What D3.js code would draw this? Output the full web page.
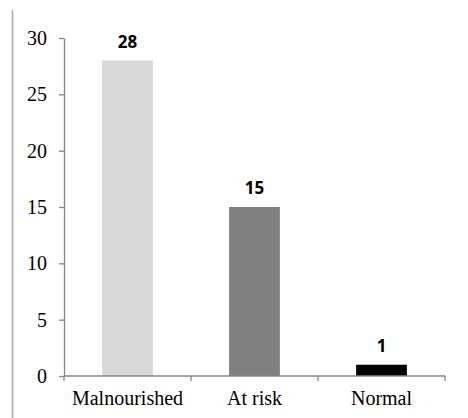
<!DOCTYPE html>
<html>
<head>
<meta charset="utf-8">
<script src="https://cdn.jsdelivr.net/npm/d3@7"></script>
<style>
  html, body { margin: 0; padding: 0; background: #fff; }
  svg { display: block; }
</style>
</head>
<body>
<svg id="chart" width="468" height="418"></svg>
<script>
// Nutritional status counts
const categories = ["Malnourished", "At risk", "Normal"];
const counts = [28, 15, 1];
const barColors = ["#d9d9d9", "#808080", "#000000"];
const yTicks = [0, 5, 10, 15, 20, 25, 30];

const svg = d3.select("#chart");
const axisColor = "#868686";

const plot = { left: 64, right: 445, top: 38, bottom: 376 };

const x = d3.scaleBand()
  .domain(categories)
  .range([plot.left, plot.right])
  .paddingInner(0.6)
  .paddingOuter(0.3);

const y = d3.scaleLinear()
  .domain([0, 30])
  .range([plot.bottom, plot.top]);

// Frame line on the left edge
svg.append("line")
  .attr("x1", 12.5).attr("x2", 12.5)
  .attr("y1", 10).attr("y2", 418)
  .attr("stroke", "#a6a6a6").attr("stroke-width", 1.5);

// Bars
svg.selectAll("rect.bar")
  .data(categories)
  .enter().append("rect")
  .attr("class", "bar")
  .attr("x", d => x(d))
  .attr("width", x.bandwidth())
  .attr("y", (d, i) => y(counts[i]))
  .attr("height", (d, i) => y(0) - y(counts[i]))
  .attr("fill", (d, i) => barColors[i]);

// Value labels
svg.selectAll("text.val")
  .data(categories)
  .enter().append("text")
  .attr("class", "val")
  .attr("x", d => x(d) + x.bandwidth() / 2)
  .attr("y", (d, i) => y(counts[i]) - 13)
  .attr("text-anchor", "middle")
  .attr("font-family", "'Open Sans', 'Liberation Sans', sans-serif")
  .attr("font-weight", "bold")
  .attr("font-size", "17px")
  .attr("fill", "#000")
  .text((d, i) => counts[i]);

// Y axis
const yAxis = svg.append("g")
  .attr("transform", `translate(${plot.left},0)`)
  .call(d3.axisLeft(y).tickValues(yTicks).tickSize(5).tickPadding(12).tickSizeOuter(0));
yAxis.select(".domain").attr("stroke", axisColor).attr("stroke-width", 1.3);
yAxis.selectAll(".tick line").attr("stroke", axisColor).attr("stroke-width", 1.3);
yAxis.selectAll(".tick text")
  .attr("font-family", "'Liberation Serif', 'DejaVu Serif', serif")
  .attr("font-size", "20px")
  .attr("fill", "#000");

// X axis baseline with boundary ticks between categories
const xAxisG = svg.append("g");
xAxisG.append("line")
  .attr("x1", plot.left).attr("x2", plot.right)
  .attr("y1", y(0)).attr("y2", y(0))
  .attr("stroke", axisColor).attr("stroke-width", 1.3);
const boundaries = d3.range(categories.length + 1).map(i => plot.left + i * (plot.right - plot.left) / categories.length);
xAxisG.selectAll("line.btick")
  .data(boundaries)
  .enter().append("line")
  .attr("class", "btick")
  .attr("x1", d => d).attr("x2", d => d)
  .attr("y1", y(0)).attr("y2", y(0) + 5)
  .attr("stroke", axisColor).attr("stroke-width", 1.3);

xAxisG.selectAll("text.cat")
  .data(categories)
  .enter().append("text")
  .attr("class", "cat")
  .attr("x", d => x(d) + x.bandwidth() / 2)
  .attr("y", y(0) + 29)
  .attr("text-anchor", "middle")
  .attr("font-family", "'Liberation Serif', 'DejaVu Serif', serif")
  .attr("font-size", "20px")
  .attr("fill", "#000")
  .text(d => d);
</script>
</body>
</html>
